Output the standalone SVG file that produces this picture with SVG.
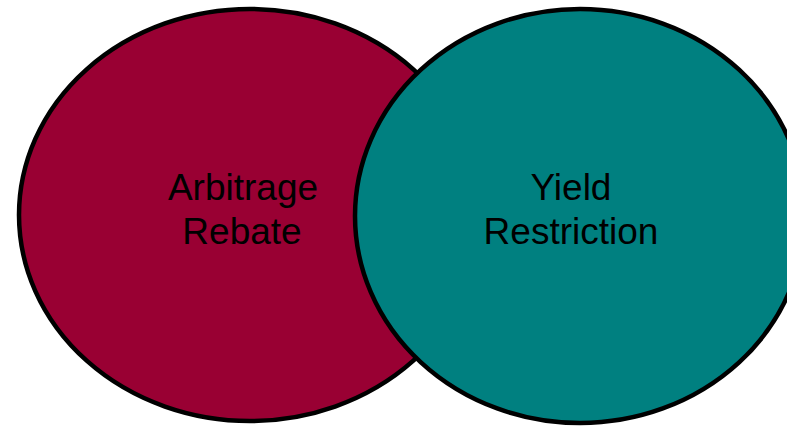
<svg xmlns="http://www.w3.org/2000/svg" width="787" height="426" viewBox="0 0 787 426">
<style>
.c{stroke:#000;stroke-width:4.5}
.t{font-family:"Liberation Sans",Arial,sans-serif;font-size:37px;fill:#000;text-anchor:middle}
</style>
<rect width="787" height="426" fill="#fff"/>
<g id="arbitrage">
<ellipse class="c" cx="250" cy="215" rx="231" ry="206" fill="#990033"/>
</g>
<g id="yield">
<ellipse class="c" cx="580" cy="216" rx="225" ry="207" fill="#008080"/>
</g>
<g id="labels">
<text class="t" x="243" y="200">Arbitrage</text>
<text class="t" x="242" y="244">Rebate</text>
<text class="t" x="571" y="200">Yield</text>
<text class="t" x="571" y="244">Restriction</text>
</g>
<g id="connectors"/>
</svg>
